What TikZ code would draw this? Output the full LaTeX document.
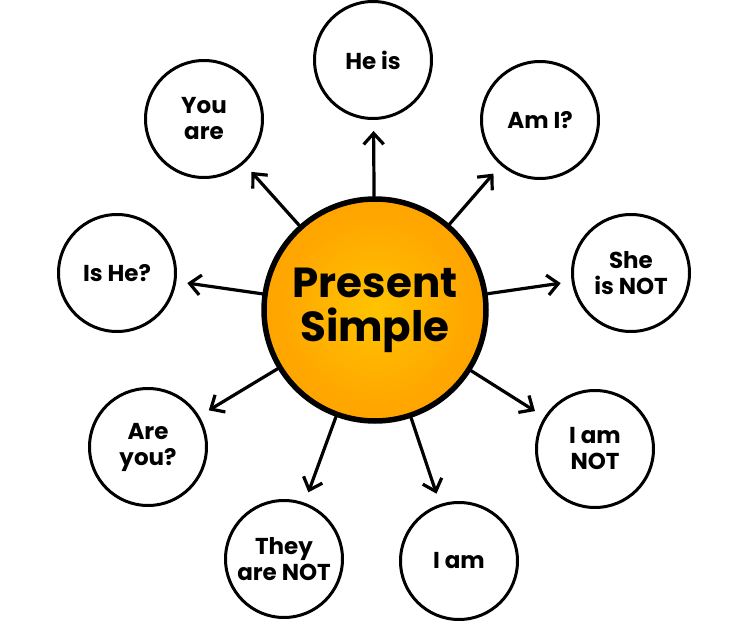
\documentclass[tikz,border=0pt]{standalone}
\usepackage{fontspec}
\setmainfont{Poppins}
\usetikzlibrary{arrows.meta}
\definecolor{sunin}{HTML}{FFC400}
\definecolor{sunmid}{HTML}{FFA800}
\definecolor{sunout}{HTML}{FF9200}
\pgfdeclareradialshading{sun}{\pgfpoint{0bp}{0bp}}{color(0bp)=(sunin); color(20bp)=(sunmid); color(50bp)=(sunout); color(70bp)=(sunout)}
\tikzset{
  leaf/.style={circle, draw=black, line width=3pt, minimum size=117pt, inner sep=0pt, align=center,
    font=\fontsize{23}{26}\selectfont\bfseries, fill=white},
  hub/.style={circle, draw=black, line width=5.5pt, minimum size=222pt, inner sep=0pt, align=center,
    shading=sun, font=\fontsize{42}{44}\selectfont\bfseries},
  link/.style={line width=3.2pt, line cap=round, shorten >=11pt,
    -{Straight Barb[length=11pt,width=20pt,line width=3.2pt]}}
}
\begin{document}
\begin{tikzpicture}[x=1pt,y=-1pt]
\useasboundingbox (0,0) rectangle (745,637);
\node[hub] (c) at (375,310) {Present\\Simple};
\node[leaf] (heis) at (373,60) {He is};
\node[leaf] (ami) at (540,120) {Am I?};
\node[leaf] (sheisnot) at (631,273) {She\\is NOT};
\node[leaf] (iamnot) at (595,449) {I am\\NOT};
\node[leaf] (iam) at (459,561) {I am};
\node[leaf] (theyarenot) at (284,559) {They\\are NOT};
\node[leaf] (areyou) at (148,447) {Are\\you?};
\node[leaf] (ishe) at (117,273) {Is He?};
\node[leaf] (youare) at (204,119) {You\\are};
\foreach \t in {heis,ami,sheisnot,iamnot,iam,theyarenot,areyou,ishe,youare}
  \draw[link] (c) -- (\t);
\end{tikzpicture}
\end{document}
